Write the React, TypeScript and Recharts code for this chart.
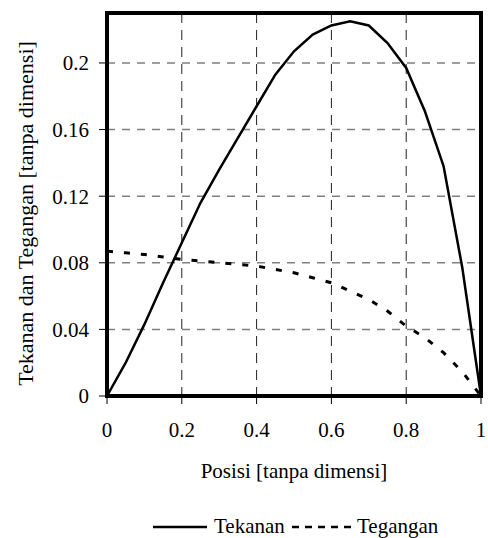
import React from 'react';
import {
  LineChart,
  Line,
  XAxis,
  YAxis,
  CartesianGrid,
  ReferenceArea,
  Legend,
} from 'recharts';

const posisi = [0, 0.05, 0.1, 0.15, 0.2, 0.25, 0.3, 0.35, 0.4, 0.45, 0.5, 0.55, 0.6, 0.65, 0.7, 0.75, 0.8, 0.85, 0.9, 0.95, 1];
const tekanan = [0, 0.02, 0.043, 0.068, 0.092, 0.116, 0.136, 0.155, 0.174, 0.193, 0.207, 0.217, 0.2225, 0.225, 0.2225, 0.212, 0.197, 0.171, 0.138, 0.077, 0];
const tegangan = [0.087, 0.086, 0.085, 0.0835, 0.082, 0.081, 0.08, 0.079, 0.078, 0.076, 0.074, 0.071, 0.068, 0.063, 0.058, 0.051, 0.042, 0.035, 0.026, 0.0145, 0];

const xTicks = [0, 0.2, 0.4, 0.6, 0.8, 1];
const yTicks = [0, 0.04, 0.08, 0.12, 0.16, 0.2];

const data = posisi.map((x, i) => ({ x, tekanan: tekanan[i], tegangan: tegangan[i] }));

const FONT = "'Liberation Serif', 'Times New Roman', Tinos, 'DejaVu Serif', serif";
const textStyle = { fontFamily: FONT };

// legend drawn as a small svg strip under the axis title
const LegendContent = () => (
  <svg width={488} height={30} style={{ display: 'block', overflow: 'visible' }}>
    <line x1={153} y1={19} x2={207} y2={19} stroke="#000" strokeWidth={2.5} />
    <text x={214} y={25} style={textStyle} fontSize={21} fill="#000">Tekanan</text>
    <line x1={292} y1={19} x2={352} y2={19} stroke="#000" strokeWidth={2.5} strokeDasharray="7 6" />
    <text x={357} y={25} style={textStyle} fontSize={21} fill="#000">Tegangan</text>
  </svg>
);

export default function App() {
  return (
    <div style={{ position: 'absolute', left: 0, top: 0, background: '#fff', fontFamily: FONT }}>
      <LineChart width={488} height={538} data={data} margin={{ top: 13, right: 7, left: 0, bottom: 0 }} style={textStyle}>
        <CartesianGrid vertical={false} stroke="#808080" strokeWidth={1.5} strokeDasharray="8 7" />
        <CartesianGrid horizontal={false} stroke="#222" strokeWidth={1} strokeDasharray="10 7" />
        <XAxis
          dataKey="x"
          type="number"
          domain={[0, 1]}
          ticks={xTicks}
          height={112}
          axisLine={false}
          tickLine={{ stroke: '#000' }}
          tickSize={8}
          tickMargin={18}
          tick={{ fontSize: 21, fill: '#000', style: textStyle }}
          label={{
            content: (props: any) => {
              const vb = props.viewBox;
              return (
                <text x={vb.x + vb.width / 2} y={vb.y + 82} textAnchor="middle" style={textStyle} fontSize={21} fill="#000">
                  Posisi [tanpa dimensi]
                </text>
              );
            },
          }}
        />
        <YAxis
          type="number"
          domain={[0, 0.23]}
          ticks={yTicks}
          width={107}
          axisLine={false}
          tickLine={{ stroke: '#000' }}
          tickSize={8}
          tickMargin={10}
          tick={{ fontSize: 21, fill: '#000', style: textStyle }}
          label={{
            content: (props: any) => {
              const vb = props.viewBox;
              const cx = vb.x + 33;
              const cy = vb.y + vb.height / 2 + 9;
              return (
                <text x={cx} y={cy} transform={`rotate(-90, ${cx}, ${cy})`} textAnchor="middle" style={textStyle} fontSize={22} fill="#000">
                  Tekanan dan Tegangan [tanpa dimensi]
                </text>
              );
            },
          }}
        />
        <Line type="linear" dataKey="tekanan" stroke="#000" strokeWidth={2.5} dot={false} isAnimationActive={false} />
        <Line type="linear" dataKey="tegangan" stroke="#000" strokeWidth={3} strokeDasharray="6 11" dot={false} isAnimationActive={false} />
        <ReferenceArea x1={0} x2={1} y1={0} y2={0.23} fill="none" fillOpacity={0} stroke="#000" strokeWidth={4} ifOverflow="visible" />
        <Legend verticalAlign="bottom" content={() => <LegendContent />} />
      </LineChart>
    </div>
  );
}
